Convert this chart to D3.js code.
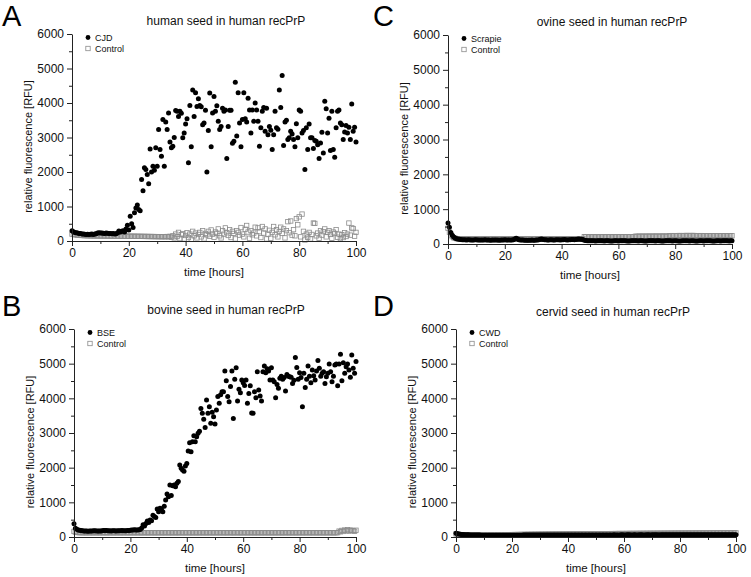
<!DOCTYPE html>
<html><head><meta charset="utf-8">
<script src="https://cdn.jsdelivr.net/npm/d3@7"></script>
<style>
body{margin:0;background:#fff}
svg{display:block}
text{font-family:"Liberation Sans",Arial,Helvetica,sans-serif}
</style>
</head><body><svg id="chart" width="751" height="577"></svg>
<script>
// ---------------- data ----------------
const sampleStepHours = 0.5;               // reading interval of the plate reader
const xTicks = [0, 20, 40, 60, 80, 100];
const xMinorTicks = [10, 30, 50, 70, 90];
const yTicks = [0, 1000, 2000, 3000, 4000, 5000, 6000];
const yMinorTicks = [500, 1500, 2500, 3500, 4500, 5500];
const panelLetters = ["A", "B", "C", "D"];
const panelTitles = ["human seed in human recPrP", "bovine seed in human recPrP",
                     "ovine seed in human recPrP", "cervid seed in human recPrP"];
const sampleNames = ["CJD", "BSE", "Scrapie", "CWD"];
const controlName = "Control";
const xAxisTitle = "time [hours]";
const yAxisTitle = "relative fluorescence [RFU]";

const cjdValues = [300,270,250,240,230,220,215,205,200,195,
190,195,190,195,200,190,200,210,230,240,
235,230,225,220,230,225,215,220,210,215,
205,210,230,290,260,280,300,260,350,460,
320,720,500,390,820,960,1040,915,880,1780,
1460,2120,2070,1930,1660,2670,2000,2170,2050,2700,
2170,3230,2650,2460,3520,2170,3450,3230,3710,2870,
2700,2750,3000,3780,3760,3610,3760,3700,2990,3130,
3390,3540,2270,3930,2730,4380,3610,4300,3900,4120,
3930,3890,3370,3420,3790,2000,3200,4290,2730,3710,
4190,3760,3920,3470,3230,3320,3850,3760,3800,2390,
3320,3790,3790,2830,2890,4600,3040,4300,3420,2730,
3520,4300,3540,3450,4140,3800,3130,3800,3470,4000,
3800,3470,2750,3280,3760,3870,3180,3850,3080,3320,
3210,2650,3080,3760,3280,3240,4380,3870,4800,2770,
3450,3500,2940,2990,3180,3100,2940,2730,3400,2990,
3800,3760,3130,3200,2070,3280,2650,3390,2990,2990,
2680,2910,2890,2790,2390,2840,3150,2550,4050,3830,
3130,3560,2620,3760,2650,2430,3280,3760,3800,3420,
3370,2940,3160,3350,3130,3300,2940,3970,3180,3300,
2870];

const cjdControl = [200,190,182,176,170,166,162,160,158,156,
155,154,153,152,151,150,150,149,149,148,
148,147,147,146,146,145,145,144,144,143,
143,142,142,141,141,140,140,139,139,138,
138,137,137,136,136,135,135,134,134,133,
133,132,132,131,131,130,130,129,129,128,
128,127,127,126,126,125,125,130,120,135,
110,150,90,200,130,250,70,180,210,60,
160,240,100,200,50,280,150,230,90,190,
250,120,300,60,220,180,280,140,320,200,
110,260,220,350,150,90,300,200,380,240,
160,330,100,280,220,60,300,250,170,390,
200,120,340,450,260,80,300,180,230,400,
150,380,270,100,420,230,350,60,200,310,
80,250,420,180,330,120,280,400,220,350,
90,300,560,240,580,170,330,150,650,470,
700,120,780,280,30,200,110,250,60,190,
520,510,150,230,80,300,170,270,350,120,
250,300,190,80,260,220,330,110,200,70,
180,100,240,130,200,520,170,380,360,140,
250];

const bseValues = [380,250,220,205,195,185,180,175,172,170,
168,170,172,175,178,180,176,172,170,175,
180,185,190,185,180,178,175,180,182,178,
175,180,178,182,185,180,178,182,185,190,
195,200,205,210,200,205,210,215,260,350,
320,390,460,420,490,470,630,590,560,810,
730,830,810,730,890,1070,1240,1160,1500,1200,
1480,1500,1450,1550,1600,2080,1980,1930,1900,2050,
2120,2480,2720,2460,2750,2920,2750,2890,2990,3050,
3710,3570,3400,3160,3950,3570,3760,3280,3600,3470,
3260,3660,4050,3860,4100,4190,4190,4790,4510,4050,
3900,4340,4790,3420,4550,4880,3920,4260,4160,4530,
4450,4370,4530,3860,4140,4360,3580,3570,4190,4020,
4770,4240,4070,3920,4770,4930,4740,4850,4790,4530,
4880,4530,4480,4020,4400,4290,4580,4640,4550,4600,
4210,4690,4640,4620,4610,4430,4520,5180,4890,4550,
4740,4600,3760,4720,4310,4550,4930,4640,4450,4820,
4650,4530,4790,5090,4870,4640,4720,4770,4430,4620,
4720,4990,4770,4480,4640,4960,4990,4360,4990,5270,
4510,5030,4720,4910,4990,4820,4610,5250,4870,4720,
5060];

const bseControl = [160,140,132,128,126,125,125,124,124,124,
124,125,124,123,124,125,124,124,123,124,
125,124,124,123,124,125,124,123,124,124,
124,125,124,123,124,124,125,124,123,124,
124,125,124,123,124,125,124,124,123,124,
125,124,124,123,124,125,124,123,124,124,
124,125,124,123,124,124,125,124,123,124,
124,125,124,123,124,125,124,124,123,124,
125,124,124,123,124,125,124,123,124,124,
124,125,124,123,124,124,125,124,123,124,
124,125,124,123,124,125,124,124,123,124,
125,124,124,123,124,125,124,123,124,124,
124,125,124,123,124,124,125,124,123,124,
124,125,124,123,124,125,124,124,123,124,
125,124,124,123,124,125,124,123,124,124,
124,125,124,123,124,124,125,124,123,124,
124,125,124,123,124,125,124,124,123,124,
125,124,124,123,124,125,124,123,124,124,
124,125,124,123,124,124,125,124,170,150,
190,160,200,180,210,170,200,190,180,165,
195];

const scrapieValues = [600,480,330,250,200,170,150,140,135,130,
125,122,120,118,120,122,118,115,117,120,
122,118,115,112,115,118,120,117,115,112,
110,113,116,118,115,112,110,112,115,118,
120,118,115,113,112,115,125,140,165,140,
125,118,115,112,110,108,105,108,110,112,
110,108,112,118,125,135,140,132,125,120,
118,115,120,122,118,115,120,125,122,118,
120,125,128,122,118,120,125,130,128,125,
130,135,140,138,135,130,110,100,95,92,
90,92,95,90,88,90,92,95,92,90,
88,90,92,90,88,86,88,90,92,90,
88,90,92,95,92,90,88,86,88,90,
92,95,92,90,88,90,92,90,88,86,
88,90,92,95,92,90,88,90,92,90,
88,86,88,90,92,95,92,90,88,90,
92,90,88,86,88,90,92,95,92,90,
88,90,92,90,88,86,88,90,92,90,
88,90,92,95,92,90,88,86,88,90,
92,90,88,90,92,95,92,90,88,90,
92];

const scrapieControl = [450,340,260,210,180,165,155,150,148,146,
145,144,143,144,145,144,143,142,143,144,
145,144,143,142,143,144,145,144,143,142,
143,144,145,144,143,142,143,144,145,144,
143,142,143,144,145,146,147,148,150,148,
146,144,143,142,143,144,145,144,143,142,
143,144,145,146,147,146,145,144,143,144,
145,146,147,146,145,144,145,146,147,148,
147,146,145,146,147,148,149,148,147,148,
149,150,151,150,149,150,212,210,208,206,
205,206,207,206,205,204,205,206,207,206,
205,206,207,208,207,206,205,206,207,208,
209,208,207,208,209,210,209,208,209,210,
211,212,222,221,220,222,223,222,221,222,
223,224,223,222,223,224,225,224,223,224,
225,226,225,224,225,226,240,241,242,241,
240,241,242,243,242,241,242,243,244,243,
242,243,244,243,242,241,240,241,242,241,
240,239,240,241,240,239,238,239,240,239,
238,237,238,239,238,237,236,237,238,237,
236];

const cwdValues = [110,95,85,78,74,70,68,66,64,62,
60,60,58,58,56,56,55,55,54,54,
53,53,52,52,52,51,51,50,50,50,
50,50,50,50,51,51,51,52,52,52,
52,53,53,53,54,54,54,54,55,55,
55,55,55,56,56,56,56,56,57,57,
57,57,58,58,58,57,57,58,58,58,
58,58,59,59,58,58,59,59,59,58,
58,59,59,60,60,59,59,60,60,60,
59,59,60,60,60,61,60,60,61,61,
60,60,61,61,61,60,60,61,61,61,
60,61,61,62,61,61,60,61,62,62,
61,61,62,62,62,61,61,62,62,61,
61,62,62,62,61,61,62,62,62,61,
62,62,63,62,62,61,62,62,63,62,
62,63,63,62,62,63,63,62,62,63,
63,62,62,63,63,62,62,63,63,62,
62,63,63,62,62,63,63,62,62,63,
63,62,62,63,63,62,62,63,63,62,
62,63,63,62,62,63,63,62,62,63,
62];

const cwdControl = [90,80,74,70,68,66,64,62,61,60,
60,59,59,58,58,58,58,58,59,59,
60,60,61,61,62,62,63,63,64,64,
65,65,66,66,67,67,68,68,69,69,
70,70,71,71,72,72,73,73,74,74,
75,75,76,75,77,77,78,77,78,79,
79,80,79,80,81,81,82,81,82,83,
83,84,83,84,85,85,86,85,86,87,
87,88,87,88,89,89,90,89,90,91,
91,92,91,92,93,92,94,93,94,95,
95,95,96,95,96,97,96,97,98,97,
98,99,98,99,100,99,100,101,100,101,
101,100,102,101,102,103,102,103,102,103,
104,103,104,103,105,104,105,104,105,106,
105,106,105,107,106,107,106,107,108,107,
108,107,108,109,108,109,108,110,109,110,
109,110,111,110,111,110,112,111,112,111,
112,113,112,113,112,114,113,114,113,114,
115,114,115,116,115,116,115,117,116,117,
116,117,118,117,118,117,118,119,118,119,
118];

const sampleSeries = [cjdValues, bseValues, scrapieValues, cwdValues];
const controlSeries = [cjdControl, bseControl, scrapieControl, cwdControl];

// ---------------- layout ----------------
const layout = [
  {x0: 72,  x1: 356, yTop: 34,  yBot: 241, letterX: 2,   letterY: 26,  titleX: 226, titleY: 25},
  {x0: 74,  x1: 356, yTop: 329, yBot: 537, letterX: 2,   letterY: 316, titleX: 226, titleY: 314},
  {x0: 448, x1: 732, yTop: 35,  yBot: 244, letterX: 373, letterY: 26,  titleX: 612, titleY: 26},
  {x0: 456, x1: 736, yTop: 329, yBot: 537, letterX: 373, letterY: 316, titleX: 613, titleY: 316}
];

const svg = d3.select("#chart");
const axisColor = "#222";
const ctrlColor = "#8c8c8c";
const fmt = d3.format("d");

layout.forEach((L, i) => {
  const x = d3.scaleLinear().domain([0, 100]).range([L.x0, L.x1]);
  const y = d3.scaleLinear().domain([0, 6000]).range([L.yBot, L.yTop]);
  const g = svg.append("g");

  // panel letter
  g.append("text").attr("x", L.letterX).attr("y", L.letterY)
    .attr("font-size", 29).attr("fill", "#000").text(panelLetters[i]);
  // title
  g.append("text").attr("x", L.titleX).attr("y", L.titleY)
    .attr("text-anchor", "middle").attr("font-size", 12).attr("fill", "#111")
    .text(panelTitles[i]);

  // data: control first, sample on top
  const ctrl = controlSeries[i].map((v, k) => ({t: k * sampleStepHours, v}));
  const samp = sampleSeries[i].map((v, k) => ({t: k * sampleStepHours, v}));
  const sq = 4.4;
  g.append("g").selectAll("rect").data(ctrl).join("rect")
    .attr("x", d => x(d.t) - sq / 2).attr("y", d => y(d.v) - sq / 2)
    .attr("width", sq).attr("height", sq)
    .attr("fill", "none").attr("stroke", ctrlColor).attr("stroke-width", 0.8);
  g.append("g").selectAll("circle").data(samp).join("circle")
    .attr("cx", d => x(d.t)).attr("cy", d => y(d.v)).attr("r", 2.5)
    .attr("fill", "#000");

  // minor ticks
  const mx = g.append("g").attr("transform", `translate(0,${L.yBot})`)
    .call(d3.axisBottom(x).tickValues(xMinorTicks).tickSize(3).tickFormat(""));
  mx.select(".domain").remove();
  const my = g.append("g").attr("transform", `translate(${L.x0},0)`)
    .call(d3.axisLeft(y).tickValues(yMinorTicks).tickSize(3).tickFormat(""));
  my.select(".domain").remove();
  [mx, my].forEach(a => a.selectAll("line").attr("stroke", axisColor));

  // major axes
  const ax = g.append("g").attr("transform", `translate(0,${L.yBot})`)
    .call(d3.axisBottom(x).tickValues(xTicks).tickFormat(fmt).tickSize(5).tickSizeOuter(0).tickPadding(2));
  const ay = g.append("g").attr("transform", `translate(${L.x0},0)`)
    .call(d3.axisLeft(y).tickValues(yTicks).tickFormat(fmt).tickSize(5).tickSizeOuter(0).tickPadding(3));
  [ax, ay].forEach(a => {
    a.select(".domain").attr("stroke", axisColor);
    a.selectAll("line").attr("stroke", axisColor);
    a.selectAll("text").attr("font-size", 12).attr("fill", "#111")
      .attr("font-family", '"Liberation Sans",Arial,sans-serif');
  });

  // axis titles
  g.append("text").attr("x", (L.x0 + L.x1) / 2).attr("y", L.yBot + 35)
    .attr("text-anchor", "middle").attr("font-size", 11.5).attr("fill", "#111").text(xAxisTitle);
  g.append("text")
    .attr("transform", `translate(${L.x0 - 40},${(L.yTop + L.yBot) / 2 + 9}) rotate(-90)`)
    .attr("text-anchor", "middle").attr("font-size", 11).attr("fill", "#111").text(yAxisTitle);

  // legend
  const lx = L.x0 + 16;
  g.append("circle").attr("cx", lx).attr("cy", L.yTop + 3.5).attr("r", 2.4).attr("fill", "#000");
  g.append("text").attr("x", lx + 7).attr("y", L.yTop + 6.7).attr("font-size", 9)
    .attr("fill", "#111").text(sampleNames[i]);
  g.append("rect").attr("x", lx - 2.2).attr("y", L.yTop + 14.5 - 2.2).attr("width", 4.4).attr("height", 4.4)
    .attr("fill", "none").attr("stroke", ctrlColor).attr("stroke-width", 0.8);
  g.append("text").attr("x", lx + 7).attr("y", L.yTop + 17.7).attr("font-size", 9)
    .attr("fill", "#111").text(controlName);
});
</script>
</body></html>
